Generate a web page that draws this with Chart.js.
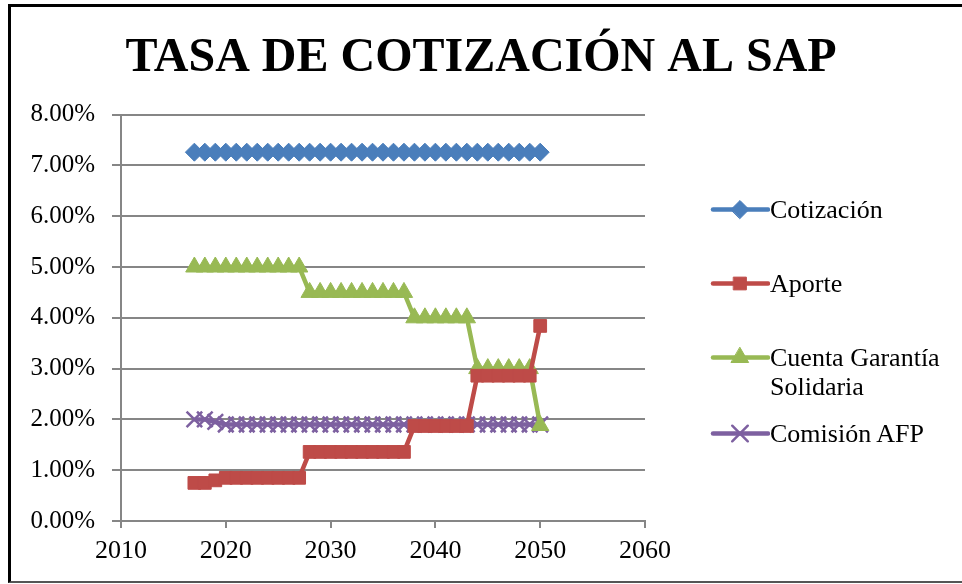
<!DOCTYPE html>
<html>
<head>
<meta charset="utf-8">
<script src="https://cdn.jsdelivr.net/npm/chart.js@4.4.0/dist/chart.umd.min.js"></script>
<style>
  html, body { margin: 0; padding: 0; background: #fff; }
  #wrap { position: relative; width: 962px; height: 584px; overflow: hidden; }
  #chart { position: absolute; left: 0; top: 0; }
  #frame { position: absolute; left: 8px; top: 4px; width: 970px; height: 574px; border: 3px solid #000; border-bottom: 2px solid #555; pointer-events: none; }
  #legend { position: absolute; left: 710px; top: 0; font-family: 'Liberation Serif', 'Times New Roman', serif; font-size: 26px; color: #000; }
  .item { position: absolute; left: 0; display: flex; align-items: flex-start; white-space: nowrap; line-height: 29px; }
</style>
</head>
<body>
<div id="wrap">
  <canvas id="chart" width="962" height="584"></canvas>
  <div id="legend"></div>
  <div id="frame"></div>
</div>
<script>
// years on the x axis
const years = [2017, 2018, 2019, 2020, 2021, 2022, 2023, 2024, 2025, 2026, 2027,
  2028, 2029, 2030, 2031, 2032, 2033, 2034, 2035, 2036, 2037,
  2038, 2039, 2040, 2041, 2042, 2043,
  2044, 2045, 2046, 2047, 2048, 2049, 2050];

// values in percent
const cotizacion = [7.26, 7.26, 7.26, 7.26, 7.26, 7.26, 7.26, 7.26, 7.26, 7.26, 7.26,
  7.26, 7.26, 7.26, 7.26, 7.26, 7.26, 7.26, 7.26, 7.26, 7.26,
  7.26, 7.26, 7.26, 7.26, 7.26, 7.26,
  7.26, 7.26, 7.26, 7.26, 7.26, 7.26, 7.26];
const aporte = [0.75, 0.75, 0.80, 0.85, 0.85, 0.85, 0.85, 0.85, 0.85, 0.85, 0.85,
  1.36, 1.36, 1.36, 1.36, 1.36, 1.36, 1.36, 1.36, 1.36, 1.36,
  1.87, 1.87, 1.87, 1.87, 1.87, 1.87,
  2.86, 2.86, 2.86, 2.86, 2.86, 2.86, 3.84];
const cuentaGarantia = [5.00, 5.00, 5.00, 5.00, 5.00, 5.00, 5.00, 5.00, 5.00, 5.00, 5.00,
  4.50, 4.50, 4.50, 4.50, 4.50, 4.50, 4.50, 4.50, 4.50, 4.50,
  4.00, 4.00, 4.00, 4.00, 4.00, 4.00,
  3.00, 3.00, 3.00, 3.00, 3.00, 3.00, 1.88];
const comisionAfp = [2.00, 2.00, 1.95, 1.90, 1.90, 1.90, 1.90, 1.90, 1.90, 1.90, 1.90,
  1.90, 1.90, 1.90, 1.90, 1.90, 1.90, 1.90, 1.90, 1.90, 1.90,
  1.90, 1.90, 1.90, 1.90, 1.90, 1.90,
  1.90, 1.90, 1.90, 1.90, 1.90, 1.90, 1.90];

const xTicks = [2010, 2020, 2030, 2040, 2050, 2060];

const serif = "'Liberation Serif', 'Times New Roman', serif";

const series = [
  { label: 'Cotización', data: cotizacion, color: '#4a7ebb', point: 'rectRot', radius: 9, legendTop: 195 },
  { label: 'Aporte', data: aporte, color: '#be4b48', point: 'rect', radius: 9, legendTop: 269 },
  { label: 'Cuenta Garantía\nSolidaria', data: cuentaGarantia, color: '#98b954', point: 'triangle', radius: 10, legendTop: 343 },
  { label: 'Comisión AFP', data: comisionAfp, color: '#7d60a0', point: 'crossRot', radius: 11, legendTop: 419 }
];

const datasets = series.map(s => ({
  label: s.label,
  data: years.map((y, i) => ({ x: y, y: s.data[i] })),
  showLine: true,
  borderColor: s.color,
  backgroundColor: s.color,
  borderWidth: 4.5,
  pointStyle: s.point,
  pointRadius: s.radius,
  pointBorderWidth: s.point === 'crossRot' ? 2.5 : 1,
  pointBorderColor: s.color,
  pointBackgroundColor: s.color
}));

new Chart(document.getElementById('chart'), {
  type: 'scatter',
  data: { datasets: datasets },
  options: {
    responsive: false,
    animation: false,
    layout: { padding: 0 },
    plugins: {
      legend: { display: false },
      tooltip: { enabled: false },
      title: {
        display: true,
        text: 'TASA DE COTIZACIÓN AL SAP',
        color: '#000',
        font: { family: serif, size: 48, weight: 'bold', lineHeight: 1.2 },
        padding: { top: 30, bottom: 27 }
      }
    },
    scales: {
      x: {
        type: 'linear',
        min: 2010, max: 2060,
        afterBuildTicks: axis => { axis.ticks = xTicks.map(v => ({ value: v })); },
        afterFit: axis => { axis.height = 63; },
        grid: { drawOnChartArea: false, drawTicks: true, tickLength: 7, color: '#868686', lineWidth: 2 },
        border: { color: '#868686', width: 2 },
        ticks: { color: '#000', font: { family: serif, size: 26 }, padding: 8, maxRotation: 0, callback: v => String(v) }
      },
      y: {
        min: 0, max: 8,
        afterFit: axis => { axis.width = 121; },
        grid: { color: '#868686', lineWidth: 2, tickLength: 9 },
        border: { color: '#868686', width: 2 },
        ticks: {
          stepSize: 1,
          color: '#000',
          font: { family: serif, size: 25 },
          padding: 17,
          callback: v => v.toFixed(2) + '%'
        }
      },
      // empty axis that keeps the right-hand space free for the legend
      spacer: {
        position: 'right',
        min: 0, max: 1,
        afterFit: axis => { axis.width = 317; },
        grid: { display: false },
        border: { display: false },
        ticks: { display: false }
      }
    }
  }
});

// legend: line with marker, then label
const legend = document.getElementById('legend');
series.forEach(s => {
  const item = document.createElement('div');
  item.className = 'item';
  item.style.top = s.legendTop + 'px';
  const c = document.createElement('canvas');
  c.width = 60; c.height = 29;
  const g = c.getContext('2d');
  g.strokeStyle = s.color; g.fillStyle = s.color; g.lineWidth = 4.5; g.lineCap = 'round';
  g.beginPath(); g.moveTo(3, 14.5); g.lineTo(58, 14.5); g.stroke();
  g.lineWidth = s.point === 'crossRot' ? 2.5 : 1;
  Chart.helpers.drawPoint(g, { pointStyle: s.point, radius: s.radius, borderWidth: g.lineWidth }, 30, 14.5);
  const text = document.createElement('div');
  text.innerHTML = s.label.replace('\n', '<br>');
  item.appendChild(c);
  item.appendChild(text);
  legend.appendChild(item);
});
</script>
</body>
</html>
